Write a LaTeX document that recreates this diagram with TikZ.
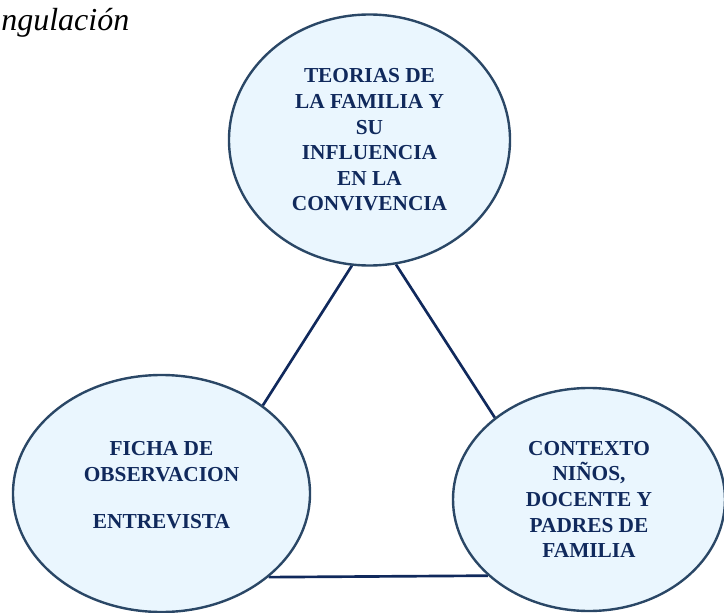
\documentclass[tikz,border=0pt]{standalone}
\usepackage{fontspec}
\setmainfont{Liberation Serif}
\usetikzlibrary{shapes.geometric,backgrounds}

\definecolor{navy}{HTML}{10295C}
\definecolor{rim}{HTML}{2A4766}
\definecolor{paleblue}{HTML}{EAF6FE}

\begin{document}
\begin{tikzpicture}[x=0.75pt,y=-0.75pt,
    topic/.style={ellipse,draw=rim,line width=1.8pt,fill=paleblue,inner sep=0pt,
      align=center,text=navy,font=\fontsize{16}{19.2}\selectfont\bfseries},
    link/.style={draw=navy,line width=2pt}]
    \useasboundingbox (0,0) rectangle (724,613);
    % Title, cut at the left edge of the page
    \node (title) [anchor=base west,inner sep=0pt,
      font=\fontsize{24}{28}\selectfont\itshape] at (1,31) {ngulación};

    % The three corners of the triangle
    \node (teorias) [topic,minimum width=210.75pt,minimum height=188.25pt] at (369.5,140)
      {TEORIAS DE\\LA FAMILIA Y\\SU\\INFLUENCIA\\EN LA\\CONVIVENCIA};
    \node (ficha) [topic,minimum width=222.75pt,minimum height=177.75pt] at (161.5,493.5)
      {FICHA DE\\OBSERVACION\\[16pt]ENTREVISTA\\[-6pt]};
    \node (contexto) [topic,minimum width=204pt,minimum height=167.25pt] at (589,499.5)
      {CONTEXTO\\NIÑOS,\\DOCENTE Y\\PADRES DE\\FAMILIA};

    % Sides of the triangle, behind the ellipses
    \begin{scope}[on background layer]
    \draw[link] (teorias.262.5) -- (ficha.41);
    \draw[link] (teorias.282.4) -- (contexto.139.2);
    \draw[link] (ficha.322.4) -- (contexto.217.2);
    \end{scope}
\end{tikzpicture}
\end{document}
